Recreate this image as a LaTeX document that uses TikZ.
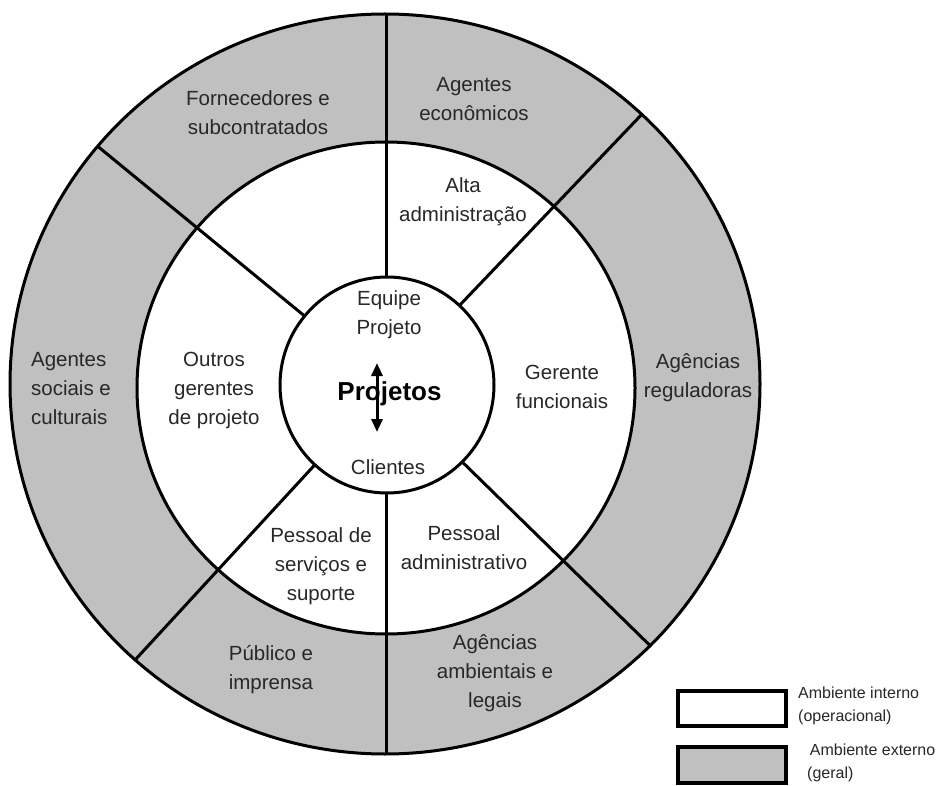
\documentclass[tikz,border=0pt]{standalone}
\usepackage{fontspec}
\setmainfont{Liberation Sans}
\usetikzlibrary{arrows.meta}
\definecolor{ringgray}{RGB}{192,192,192}
\definecolor{txt}{RGB}{40,40,40}
\begin{document}
\begin{tikzpicture}[x=1pt,y=-1pt,
  ring/.style={line width=3pt,draw=black},
  divider/.style={line width=3pt,draw=black},
  lbl/.style={align=center,text=txt,inner sep=0pt,font=\fontsize{20.5}{29}\selectfont},
  leglbl/.style={align=left,anchor=west,text=txt,inner sep=0pt,font=\fontsize{16}{23}\selectfont},
  legbox/.style={line width=4pt,draw=black},
  dblarrow/.style={line width=3pt,{Triangle[length=13pt,width=11pt]}-{Triangle[length=13pt,width=11pt]}}]
\useasboundingbox (0,0) rectangle (940,786);
\fill[white] (0,0) rectangle (940,786);
\coordinate (c) at (386,385);
% rings
\filldraw[ring,fill=ringgray] (385,384) ellipse [x radius=375,y radius=370];
\filldraw[ring,fill=white] (386,388) ellipse [x radius=249,y radius=246];
\filldraw[ring,fill=white] (387,385) ellipse [x radius=107,y radius=108];
% dividers
\foreach \a in {-47,-90,-140,-228,-270,-315}{
  \draw[divider] ([shift={(\a:107 and 108)}]c) -- ([shift={(\a:375 and 370)}]c);
}
% outer ring labels
\node[lbl] (forn) at (258,113) {Fornecedores e\\subcontratados};
\node[lbl] (econ) at (474,99) {Agentes\\econômicos};
\node[lbl] (regul) at (698,378) {Agências\\reguladoras};
\node[lbl,align=left] (soc) at (71,389) {Agentes\\sociais e\\culturais};
\node[lbl,align=left] (pub) at (271,670) {Público e\\imprensa};
\node[lbl] (amb) at (495,673) {Agências\\ambientais e\\legais};
% middle ring labels
\node[lbl] (alta) at (463,202) {Alta\\administração};
\node[lbl] (ger) at (562,387) {Gerente\\funcionais};
\node[lbl] (outros) at (214,390) {Outros\\gerentes\\de projeto};
\node[lbl] (serv) at (321,566) {Pessoal de\\serviços e\\suporte};
\node[lbl] (adm) at (464,548) {Pessoal\\administrativo};
% inner labels
\node[lbl] (equipe) at (389,315) {Equipe\\Projeto};
\node[lbl] (cli) at (388,467) {Clientes};
\node[inner sep=0pt,font=\fontsize{26}{30}\selectfont\bfseries] (proj) at (389.5,394) {Projetos};
\coordinate (aup) at (377,363);
\coordinate (adn) at (377,432);
\draw[dblarrow] (aup) -- (adn);
% legend
\draw[legbox,fill=white] (678,691) rectangle (786,726);
\draw[legbox,fill=ringgray] (678,747) rectangle (786,783);
\node[leglbl] (li) at (798,706) {Ambiente interno\\(operacional)};
\node[leglbl] (le) at (807,763) {\,Ambiente externo\\(geral)};
\end{tikzpicture}
\end{document}
